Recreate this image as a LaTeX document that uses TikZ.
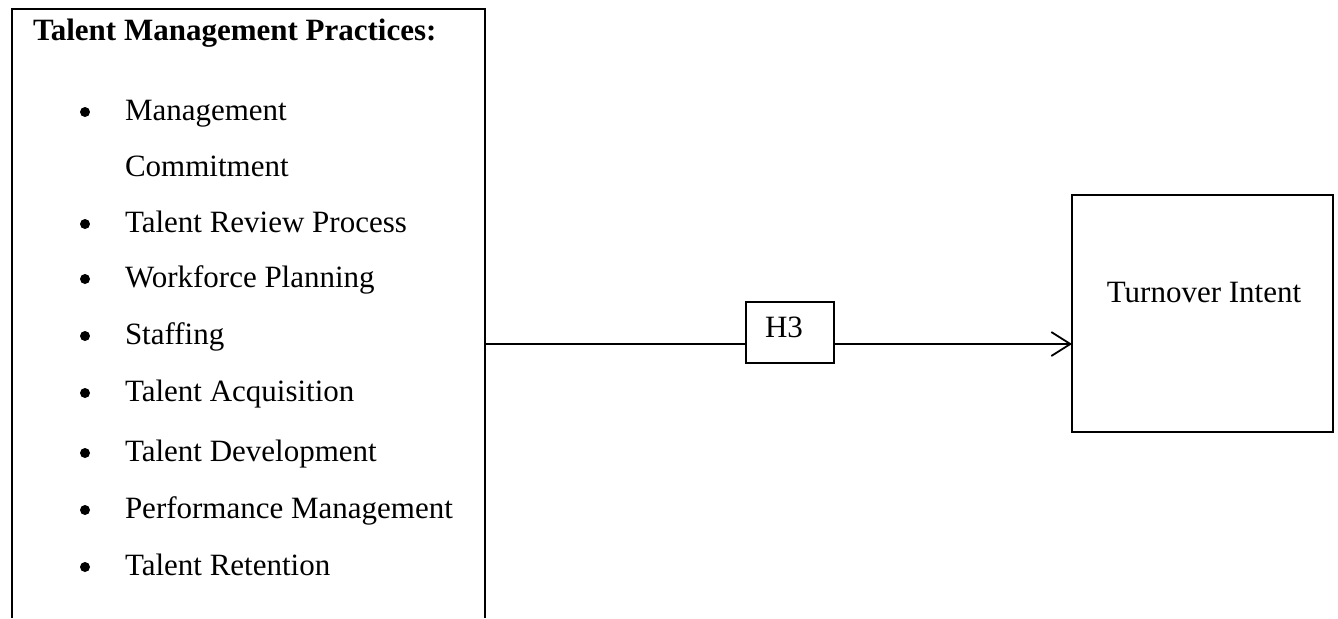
\documentclass[tikz,border=0pt]{standalone}
\usepackage{fontspec}
\setmainfont{Liberation Serif}
\usetikzlibrary{arrows.meta}
\begin{document}
\begin{tikzpicture}[x=0.5pt,y=-0.5pt,
  every node/.style={font=\fontsize{15.5pt}{18pt}\selectfont, inner sep=0pt, outer sep=0pt},
  frame/.style={draw, line width=0.75pt},
  boxnode/.style={rectangle, draw, line width=0.75pt},
  dotmark/.style={circle, fill, inner sep=0pt, minimum size=5pt},
  itemtext/.style={anchor=base west},
  link/.style={line width=0.7pt},
  arrowlink/.style={line width=1pt, -{Straight Barb[length=9.5pt,width=12pt,line width=0.9pt]}}]
\useasboundingbox (0,0) rectangle (1338,618);

% left panel (open at the bottom)
\node (tmp) [minimum width=236.5pt, minimum height=304.5pt] at (248.5,313.5) {};
\draw[frame] (tmp.south west) -- (tmp.north west) -- (tmp.north east) -- (tmp.south east);
\node[anchor=base west, font=\fontsize{15.5pt}{18pt}\selectfont\bfseries] (title) at (33,40) {Talent Management Practices:};

% bulleted list
\foreach \i/\y/\txt in {1/120/Management, 3/232/Talent Review Process, 4/287/Workforce Planning,
  5/344/Staffing, 6/401/Talent Acquisition, 7/461/Talent Development,
  8/518/Performance Management, 9/575/Talent Retention}{
  \node[dotmark] (b\i) at (85,\y-8) {};
  \node[itemtext] (t\i) at (125,\y) {\txt};
}
\node[itemtext] (t2) at (125,176) {Commitment};

% hypothesis label box
\node[boxnode, minimum width=44pt, minimum height=30.5pt] (h3) at (790,332.5) {};
\node[anchor=base west] (h3t) at (765,337) {H3};

% outcome box
\node[boxnode, minimum width=130.5pt, minimum height=118.5pt] (ti) at (1202.5,313.5) {};
\node[anchor=base] (tit) at (1204,302) {Turnover Intent};

% connectors
\coordinate (ly) at (0,344);
\draw[link] (tmp.east |- ly) -- (h3.west |- ly);
\draw[arrowlink] (h3.east |- ly) -- (ti.west |- ly);
\end{tikzpicture}
\end{document}
